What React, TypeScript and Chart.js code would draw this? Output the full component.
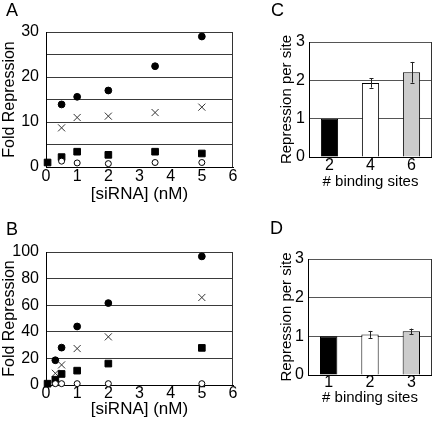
import React, { useEffect, useRef } from 'react';
import { Chart, registerables } from 'chart.js';

Chart.register(...registerables);

const FONT = "'Liberation Sans', Arial, Helvetica, sans-serif";
Chart.defaults.font.family = FONT;
Chart.defaults.color = '#000';

// ---------- Panel A ----------
const aCircleX = [0.5, 1, 2, 3.5, 5];
const aCircleY = [13.9, 15.6, 17.0, 22.4, 29.0];
const aCrossX = [0.5, 1, 2, 3.5, 5];
const aCrossY = [8.7, 11.0, 11.3, 12.1, 13.3];
const aSquareX = [0.05, 0.5, 1, 2, 3.5, 5];
const aSquareY = [1.0, 2.2, 3.4, 2.7, 3.4, 3.0];
const aOpenX = [0.5, 1, 2, 3.5, 5];
const aOpenY = [1.3, 0.9, 0.75, 1.0, 1.0];

// ---------- Panel B ----------
const bCircleX = [0.3, 0.5, 1, 2, 5];
const bCircleY = [18.6, 28.1, 44.0, 61.6, 96.7];
const bCrossX = [0.3, 0.5, 1, 2, 5];
const bCrossY = [8.8, 15.1, 27.4, 36.2, 65.8];
const bSquareX = [0.05, 0.3, 0.5, 1, 2, 5];
const bSquareY = [1.0, 4.0, 8.3, 10.8, 16.1, 27.9];
const bOpenX = [0.3, 0.5, 1, 2, 5];
const bOpenY = [1.0, 1.0, 1.0, 1.0, 1.0];

// ---------- Panel C ----------
const cLabels = ['2', '4', '6'];
const cValues = [1.0, 1.93, 2.21];
const cErrors = [0, 0.12, 0.27];

// ---------- Panel D ----------
const dLabels = ['1', '2', '3'];
const dValues = [1.0, 1.05, 1.13];
const dErrors = [0, 0.09, 0.07];

const barColors = ['#000000', '#ffffff', '#cccccc'];

const framePlugin = {
  id: 'frame',
  beforeDatasetsDraw(chart: any) {
    const { ctx, chartArea } = chart;
    const r = Math.round(chartArea.right) - 0.5;
    ctx.save();
    ctx.strokeStyle = '#333';
    ctx.lineWidth = 1;
    ctx.beginPath();
    ctx.moveTo(r, chartArea.top);
    ctx.lineTo(r, chartArea.bottom);
    ctx.stroke();
    ctx.restore();
  },
};

function errorBarPlugin(errors: number[]) {
  return {
    id: 'errbars',
    afterDatasetsDraw(chart: any) {
      const { ctx } = chart;
      const meta = chart.getDatasetMeta(0);
      const ys = chart.scales.y;
      const vals = chart.data.datasets[0].data as number[];
      ctx.save();
      ctx.strokeStyle = '#222';
      ctx.lineWidth = 1;
      meta.data.forEach((el: any, i: number) => {
        const e = errors[i];
        if (!e) return;
        const x = Math.round(el.x) + 0.5;
        const y1 = ys.getPixelForValue(vals[i] + e);
        const y2 = ys.getPixelForValue(vals[i] - e);
        ctx.beginPath();
        ctx.moveTo(x, y1);
        ctx.lineTo(x, y2);
        ctx.moveTo(x - 2, Math.round(y1) + 0.5);
        ctx.lineTo(x + 2, Math.round(y1) + 0.5);
        ctx.moveTo(x - 2, Math.round(y2) + 0.5);
        ctx.lineTo(x + 2, Math.round(y2) + 0.5);
        ctx.stroke();
      });
      ctx.restore();
    },
  };
}

type Series = { x: number[]; y: number[]; style: string; r: number; fill: string; stroke: string; bw: number };

type Lay = {
  top: number; right: number; yW: number; xH: number;
  xTickPad: number; xTitlePad: number; yTickPad: number; yTitlePad: number;
};

function scatterConfig(series: Series[], yMax: number, yStep: number, yLabelStep: number, lay: Lay): any {
  return {
    type: 'scatter',
    data: {
      datasets: series.map((s) => ({
        data: s.x.map((x, i) => ({ x, y: s.y[i] })),
        pointStyle: s.style,
        pointRadius: s.r,
        pointBackgroundColor: s.fill,
        pointBorderColor: s.stroke,
        pointBorderWidth: s.bw,
        showLine: false,
        clip: false,
      })),
    },
    options: {
      animation: false,
      responsive: false,
      events: [],
      plugins: { legend: { display: false }, tooltip: { enabled: false } },
      layout: { padding: { top: lay.top, right: lay.right, left: 0, bottom: 0 } },
      scales: {
        x: {
          type: 'linear',
          min: 0,
          max: 6,
          ticks: { stepSize: 1, padding: lay.xTickPad, font: { size: 16 }, color: '#000' },
          grid: { display: false, drawTicks: false },
          border: { color: '#000', width: 1 },
          title: { display: true, text: '[siRNA] (nM)', font: { size: 17 }, color: '#000', padding: { top: 0, bottom: lay.xTitlePad } },
          afterFit: (s: any) => { s.height = lay.xH; },
        },
        y: {
          type: 'linear',
          min: 0,
          max: yMax,
          ticks: {
            stepSize: yStep,
            padding: lay.yTickPad,
            font: { size: 16 },
            color: '#000',
            callback: (v: any) => (Number(v) % yLabelStep === 0 ? String(v) : ''),
          },
          grid: { color: '#3a3a3a', lineWidth: 1, drawTicks: false },
          border: { color: '#000', width: 1 },
          title: { display: true, text: 'Fold Repression', font: { size: 16 }, color: '#000', padding: { top: lay.yTitlePad, bottom: 0 } },
          afterFit: (s: any) => { s.width = lay.yW; },
        },
      },
    },
    plugins: [framePlugin],
  };
}

function barConfig(labels: string[], values: number[], errors: number[], lay: Lay): any {
  return {
    type: 'bar',
    data: {
      labels,
      datasets: [
        {
          data: values,
          backgroundColor: barColors,
          borderColor: '#000',
          borderWidth: 1,
          categoryPercentage: 1,
          barPercentage: 0.42,
        },
      ],
    },
    options: {
      animation: false,
      responsive: false,
      events: [],
      plugins: { legend: { display: false }, tooltip: { enabled: false } },
      layout: { padding: { top: lay.top, right: lay.right, left: 0, bottom: 0 } },
      scales: {
        x: {
          ticks: { padding: lay.xTickPad, font: { size: 16 }, color: '#000' },
          grid: { display: false, drawTicks: false },
          border: { color: '#000', width: 1 },
          title: { display: true, text: '# binding sites', font: { size: 15 }, color: '#000', padding: { top: 0, bottom: lay.xTitlePad } },
          afterFit: (s: any) => { s.height = lay.xH; },
        },
        y: {
          min: 0,
          max: 3,
          ticks: { stepSize: 1, padding: lay.yTickPad, font: { size: 16 }, color: '#000' },
          grid: { color: '#555', lineWidth: 1, drawTicks: false },
          border: { color: '#000', width: 1 },
          title: { display: true, text: 'Repression per site', font: { size: 15 }, color: '#000', padding: { top: lay.yTitlePad, bottom: 0 } },
          afterFit: (s: any) => { s.width = lay.yW; },
        },
      },
    },
    plugins: [framePlugin, errorBarPlugin(errors)],
  };
}

function ChartCanvas(props: { left: number; top: number; width: number; height: number; make: () => any }) {
  const ref = useRef<HTMLCanvasElement | null>(null);
  useEffect(() => {
    const chart = new Chart(ref.current as HTMLCanvasElement, props.make());
    return () => chart.destroy();
  }, []);
  return (
    <canvas
      ref={ref}
      width={props.width}
      height={props.height}
      style={{ position: 'absolute', left: props.left, top: props.top, width: props.width, height: props.height }}
    />
  );
}

function seriesSet(cx: number[], cy: number[], xx: number[], xy: number[], sx: number[], sy: number[], ox: number[], oy: number[]): Series[] {
  return [
    { x: ox, y: oy, style: 'circle', r: 3, fill: '#ffffff', stroke: '#000', bw: 1 },
    { x: sx, y: sy, style: 'rect', r: 4.7, fill: '#000', stroke: '#000', bw: 1 },
    { x: xx, y: xy, style: 'crossRot', r: 5, fill: '#333', stroke: '#333', bw: 1 },
    { x: cx, y: cy, style: 'circle', r: 3.4, fill: '#000', stroke: '#000', bw: 1 },
  ];
}

const letterStyle: React.CSSProperties = {
  position: 'absolute',
  fontFamily: FONT,
  fontSize: 18,
  lineHeight: '18px',
  color: '#000',
};

export default function App() {
  return (
    <div style={{ position: 'absolute', left: 0, top: 0, width: 432, height: 422, background: '#fff', overflow: 'hidden' }}>
      <ChartCanvas
        left={0}
        top={0}
        width={270}
        height={210}
        make={() =>
          scatterConfig(
            seriesSet(aCircleX, aCircleY, aCrossX, aCrossY, aSquareX, aSquareY, aOpenX, aOpenY),
            30, 5, 10,
            { top: 32, right: 37, yW: 46, xH: 43, xTickPad: 0, xTitlePad: 5, yTickPad: 7, yTitlePad: 0 }
          )
        }
      />
      <ChartCanvas
        left={0}
        top={210}
        width={270}
        height={212}
        make={() =>
          scatterConfig(
            seriesSet(bCircleX, bCircleY, bCrossX, bCrossY, bSquareX, bSquareY, bOpenX, bOpenY),
            100, 20, 20,
            { top: 42, right: 37, yW: 46, xH: 37, xTickPad: -1, xTitlePad: 2, yTickPad: 7, yTitlePad: 0 }
          )
        }
      />
      <ChartCanvas
        left={270}
        top={0}
        width={162}
        height={210}
        make={() =>
          barConfig(cLabels, cValues, cErrors, { top: 42, right: 0, yW: 39, xH: 53, xTickPad: -1, xTitlePad: 19, yTickPad: 4, yTitlePad: 8 })
        }
      />
      <ChartCanvas
        left={270}
        top={210}
        width={162}
        height={212}
        make={() =>
          barConfig(dLabels, dValues, dErrors, { top: 49, right: 0, yW: 38, xH: 47, xTickPad: -2, xTitlePad: 15, yTickPad: 4, yTitlePad: 8 })
        }
      />
      <div style={{ ...letterStyle, left: 6, top: 1 }}>A</div>
      <div style={{ ...letterStyle, left: 6, top: 220 }}>B</div>
      <div style={{ ...letterStyle, left: 271, top: 1 }}>C</div>
      <div style={{ ...letterStyle, left: 270, top: 219 }}>D</div>
    </div>
  );
}
